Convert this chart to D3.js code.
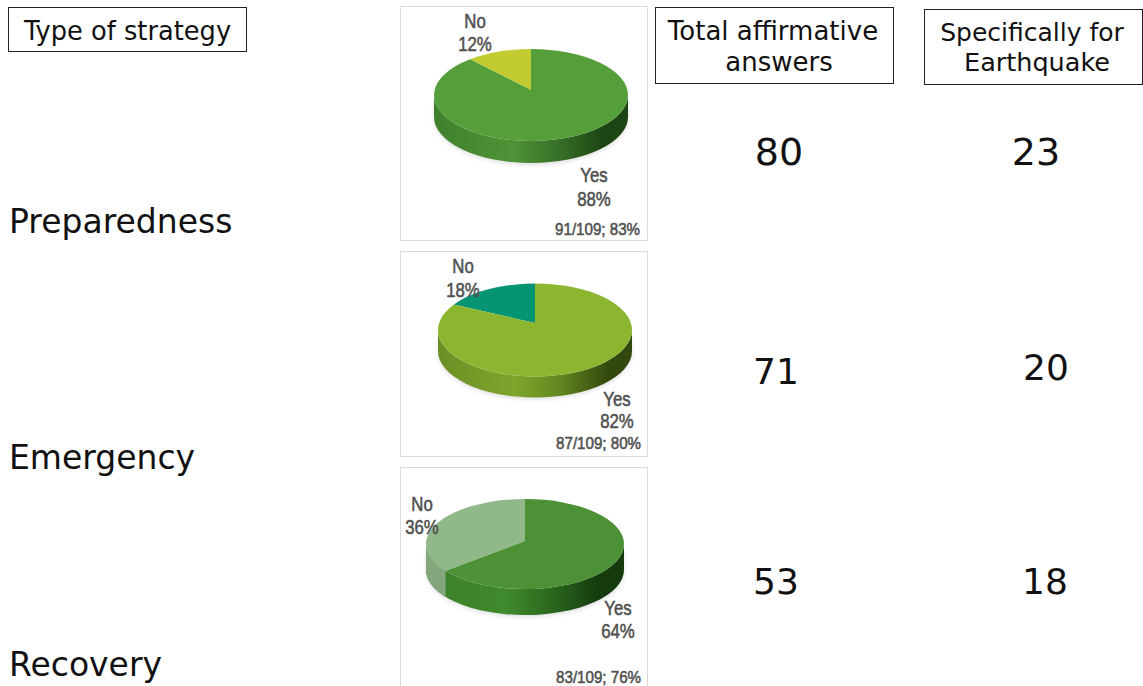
<!DOCTYPE html>
<html>
<head>
<meta charset="utf-8">
<script src="https://cdn.jsdelivr.net/npm/d3@7"></script>
<style>
  html, body { margin: 0; padding: 0; background: #fff; overflow: hidden; }
  text { font-family: "DejaVu Sans", Verdana, sans-serif; fill: #111; }
  .pie-label { font-family: "Liberation Sans", Arial, sans-serif; fill: #505050; stroke: #505050; stroke-width: 0.55; }
</style>
</head>
<body>
<svg id="chart" width="1143" height="686"></svg>
<script>
// data
const strategies = ['Preparedness', 'Emergency', 'Recovery'];
const yesShare = [88, 82, 64];
const noShare = [12, 18, 36];
const sampleNotes = ['91/109; 83%', '87/109; 80%', '83/109; 76%'];
const totalAffirmative = [80, 71, 53];
const forEarthquake = [23, 20, 18];

// layout
const strategyY = [233, 469, 676];
const countSize = [38, 36, 36];
const totalX = [779, 776, 776];
const totalY = [165, 384, 594];
const quakeX = [1036, 1046, 1045];
const quakeY = [165, 380, 594];
const panels = [
  { top: 6.5, bottom: 240.5 },
  { top: 251.5, bottom: 456.5 },
  { top: 467.5, bottom: 700 }
];
const pies = [
  { cx: 531, cy: 95, apexY: 90, rx: 97, ry: 46, depth: 22 },
  { cx: 535, cy: 330, apexY: 323, rx: 97, ry: 46.5, depth: 21 },
  { cx: 525, cy: 544, apexY: 541, rx: 99, ry: 45, depth: 26 }
];
const pieColors = [
  { yes: '#559f3a', no: '#c3cb33', sideA: '#3f7f2c', sideB: '#4f9337', sideC: '#3a7429', sideD: '#1c4414', sideNo: '#c3cb33' },
  { yes: '#8cb630', no: '#069573', sideA: '#6a8f25', sideB: '#80a52c', sideC: '#64881f', sideD: '#33480e', sideNo: '#069573' },
  { yes: '#4c9135', no: '#91b888', sideA: '#3b7f29', sideB: '#3f8a2c', sideC: '#2c6a1e', sideD: '#143a0e', sideNo: '#83a67c' }
];
const labelPos = [
  { no: [475, 28, 23], yes: [594, 182, 24], note: [640, 235] },
  { no: [463, 273, 24], yes: [617, 406, 22], note: [641, 449] },
  { no: [422, 511, 23], yes: [618, 615, 23], note: [641, 683] }
];

const svg = d3.select('#chart');
const defs = svg.append('defs');

defs.append('filter').attr('id', 'soft')
  .attr('x', '-10%').attr('y', '-20%').attr('width', '120%').attr('height', '140%')
  .append('feGaussianBlur').attr('stdDeviation', 2);

function addBox(x, y, w, h) {
  svg.append('rect')
    .attr('x', x).attr('y', y).attr('width', w).attr('height', h)
    .attr('fill', '#fff').attr('stroke', '#222').attr('stroke-width', 1);
}

function addLine(x, y, line, size) {
  svg.append('text')
    .attr('x', x).attr('y', y)
    .attr('text-anchor', 'middle')
    .style('font-size', size + 'px')
    .text(line);
}

// header boxes
addBox(8.5, 7.5, 238, 44);
addLine(127.5, 40, 'Type of strategy', 25.7);
addBox(655.5, 7.5, 238, 76);
addLine(773, 40, 'Total affirmative', 26);
addLine(779, 71, 'answers', 26);
addBox(924.5, 9.5, 218, 75);
addLine(1032, 41, 'Specifically for', 25);
addLine(1037, 71, 'Earthquake', 25.5);

// strategy names and counts
strategies.forEach((name, i) => {
  svg.append('text').attr('x', 9).attr('y', strategyY[i])
    .style('font-size', '33px').text(name);
  addLine(totalX[i], totalY[i], totalAffirmative[i], countSize[i]);
  addLine(quakeX[i], quakeY[i], forEarthquake[i], i === 0 ? countSize[i] : 36);
});

// x where the line from the apex at this angle leaves the top ellipse
function rimX(p, angle) {
  const d = (p.apexY - p.cy) * p.rx / p.ry;
  const sy = -Math.cos(angle);
  const t = -d * sy + Math.sqrt(d * d * sy * sy - d * d + p.rx * p.rx);
  return p.cx + t * Math.sin(angle);
}

strategies.forEach((name, i) => {
  const p = pies[i];
  const c = pieColors[i];
  const pos = labelPos[i];

  // No runs counter-clockwise from 12 o'clock, Yes fills the rest
  const slices = d3.pie().sort(null).value((d) => d.value)
    .startAngle(-2 * Math.PI * noShare[i] / 100)
    .endAngle(2 * Math.PI - 2 * Math.PI * noShare[i] / 100)([
      { key: 'no', value: noShare[i] },
      { key: 'yes', value: yesShare[i] }
    ]);

  svg.append('rect')
    .attr('x', 400.5).attr('y', panels[i].top)
    .attr('width', 247).attr('height', panels[i].bottom - panels[i].top)
    .attr('fill', '#fff').attr('stroke', '#dcdcdc');

  defs.append('clipPath').attr('id', `top-${i}`)
    .append('ellipse').attr('cx', p.cx).attr('cy', p.cy).attr('rx', p.rx).attr('ry', p.ry);

  const sideD = `M${p.cx - p.rx},${p.cy} A${p.rx},${p.ry} 0 0 0 ${p.cx + p.rx},${p.cy} V${p.cy + p.depth} A${p.rx},${p.ry} 0 0 1 ${p.cx - p.rx},${p.cy + p.depth} Z`;

  const grad = defs.append('linearGradient').attr('id', `side-${i}`)
    .attr('gradientUnits', 'userSpaceOnUse')
    .attr('x1', p.cx - p.rx).attr('x2', p.cx + p.rx).attr('y1', 0).attr('y2', 0);
  [[0, c.sideA], [0.4, c.sideB], [0.62, c.sideC], [0.88, c.sideD], [1, c.sideD]].forEach(([o, col]) => {
    grad.append('stop').attr('offset', o).attr('stop-color', col);
  });

  svg.append('path').attr('d', sideD)
    .attr('transform', 'translate(0,2)')
    .attr('fill', '#000').attr('opacity', 0.12).attr('filter', 'url(#soft)');
  svg.append('path').attr('d', sideD).attr('fill', `url(#side-${i})`);

  // the No slice only shows on the front wall once it passes 9 o'clock
  const noAngle = slices[0].startAngle;
  if (noAngle < -Math.PI / 2) {
    const edgeX = rimX(p, noAngle);
    defs.append('clipPath').attr('id', `side-no-${i}`)
      .append('rect').attr('x', p.cx - p.rx).attr('y', p.cy)
      .attr('width', edgeX - (p.cx - p.rx)).attr('height', p.ry + p.depth + 2);
    svg.append('path').attr('d', sideD)
      .attr('fill', c.sideNo).attr('clip-path', `url(#side-no-${i})`);
  }

  // top face: flattened arcs around the apex, trimmed by the ellipse
  const arcGen = d3.arc().innerRadius(0).outerRadius(p.rx * 1.4);
  svg.append('g').attr('clip-path', `url(#top-${i})`)
    .selectAll('path')
    .data(slices)
    .join('path')
    .attr('transform', `translate(${p.cx},${p.apexY}) scale(1,${p.ry / p.rx})`)
    .attr('d', arcGen)
    .attr('fill', (d) => c[d.data.key]);

  const label = (x, y, txt, size, squeeze, anchor) => svg.append('text')
    .attr('class', 'pie-label')
    .attr('transform', `translate(${x},${y}) scale(${squeeze},1)`)
    .attr('text-anchor', anchor)
    .style('font-size', size + 'px')
    .text(txt);

  label(pos.no[0], pos.no[1], 'No', 20, 0.84, 'middle');
  label(pos.no[0], pos.no[1] + pos.no[2], noShare[i] + '%', 20, 0.84, 'middle');
  label(pos.yes[0], pos.yes[1], 'Yes', 20, 0.84, 'middle');
  label(pos.yes[0], pos.yes[1] + pos.yes[2], yesShare[i] + '%', 20, 0.84, 'middle');
  label(pos.note[0], pos.note[1], sampleNotes[i], 17, 0.89, 'end');
});
</script>
</body>
</html>
